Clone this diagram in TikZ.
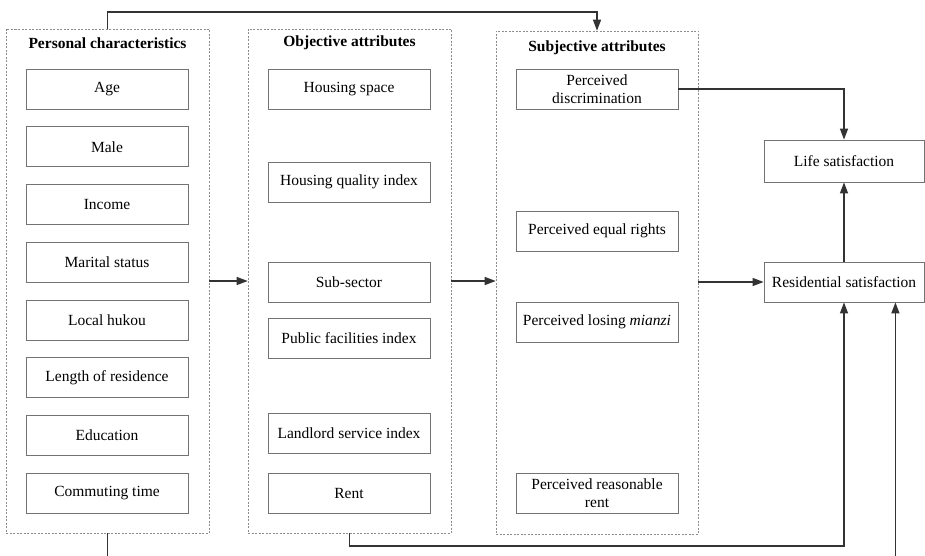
\documentclass[tikz,border=0pt]{standalone}
\usepackage{fontspec}
\setmainfont{Liberation Serif}
\usetikzlibrary{arrows.meta,calc}
\begin{document}
\begin{tikzpicture}[x=1pt,y=-1pt,
  every node/.style={font=\fontsize{15.5}{18}\selectfont},
  grp/.style={draw=black!45,line width=0.6pt,dash pattern=on 2pt off 1.5pt,minimum width=203pt,minimum height=504pt,inner sep=0pt},
  item/.style={draw=black!55,line width=0.8pt,minimum width=162pt,minimum height=40pt,inner sep=0pt,align=center},
  ttl/.style={font=\fontsize{15.5}{18}\selectfont\bfseries,inner sep=0pt},
  conn/.style={draw=black!80,line width=1.3pt,-{Triangle[length=11pt,width=8pt]}},
  plain/.style={draw=black!80,line width=1.3pt}]
\clip (0,0) rectangle (925,556);
\fill[white] (0,0) rectangle (925,556);
% groups
\node[grp] (pc) at (107.5,281) {};
\node[grp] (oa) at (349.5,281) {};
\node[grp,minimum width=202pt,minimum height=503pt] (sa) at (597,282.5) {};
\node[ttl] (pct) at (107.5,43) {Personal characteristics};
\node[ttl] (oat) at (349.5,43) {Objective attributes};
\node[ttl] (sat) at (597,48) {Subjective attributes};
% personal items
\node[item] (p1) at (107,89) {Age};
\node[item] (p2) at (107,146.7) {Male};
\node[item] (p3) at (107,204.4) {Income};
\node[item] (p4) at (107,262.1) {Marital status};
\node[item] (p5) at (107,319.9) {Local hukou};
\node[item] (p6) at (107,377.6) {Length of residence};
\node[item] (p7) at (107,435.3) {Education};
\node[item] (p8) at (107,493) {Commuting time};
% objective items
\node[item] (o1) at (349,89) {Housing space};
\node[item] (o2) at (349,182) {Housing quality index};
\node[item] (o3) at (349,282) {Sub-sector};
\node[item] (o4) at (349,338) {Public facilities index};
\node[item] (o5) at (349,433) {Landlord service index};
\node[item] (o6) at (349,493) {Rent};
% subjective items
\node[item] (s1) at (597,89) {Perceived\\discrimination};
\node[item] (s2) at (597,231) {Perceived equal rights};
\node[item] (s3) at (597,322) {Perceived losing \textit{mianzi}};
\node[item] (s4) at (597,493) {Perceived reasonable\\rent};
% outcomes
\node[item,minimum width=160pt,minimum height=42pt] (life) at (844,161) {Life satisfaction};
\node[item,minimum width=160pt] (res) at (844,282) {Residential satisfaction};
% connectors
\coordinate (top) at (0,12);
\coordinate (low1) at (0,546);
\coordinate (low2) at (0,580);
\coordinate (res2) at ($(res.south east)+(-29,0)$);
\draw[conn] (pc.north) -- (pc.north |- top) -| (sa.north);
\draw[conn] (pc.east) -- (oa.west);
\draw[conn] (oa.east) -- (oa.east -| sa.west);
\draw[conn] (sa.east |- res.west) -- (res.west);
\draw[conn] (s1.east) -| (life.north);
\draw[conn] (res.north) -- (life.south);
\draw[conn] (oa.south) -- (oa.south |- low1) -| (res.south);
\draw[conn] (pc.south) -- (pc.south |- low2) -| (res2);
\end{tikzpicture}
\end{document}
